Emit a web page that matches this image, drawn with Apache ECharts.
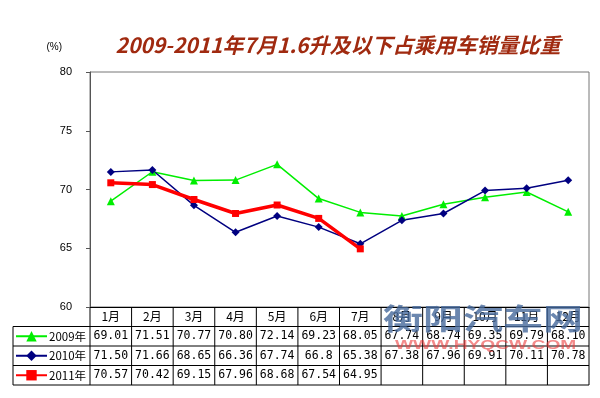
<!DOCTYPE html>
<html>
<head>
    <meta charset="utf-8">
    <title>ECharts</title>
    <script src="https://cdn.jsdelivr.net/npm/echarts@6/dist/echarts.min.js"></script>
</head>
<body style="margin:0">
<div id="main" style="width: 600px;height:398px;"></div>
<script type="text/javascript">
    var months = ['1月', '2月', '3月', '4月', '5月', '6月', '7月', '8月', '9月', '10月', '11月', '12月'];
    var names = ['2009年', '2010年', '2011年'];
    var y2009 = [69.01, 71.51, 70.77, 70.80, 72.14, 69.23, 68.05, 67.74, 68.74, 69.35, 69.79, 68.10];
    var y2010 = [71.50, 71.66, 68.65, 66.36, 67.74, 66.8, 65.38, 67.38, 67.96, 69.91, 70.11, 70.78];
    var y2011 = [70.57, 70.42, 69.15, 67.96, 68.68, 67.54, 64.95];
    // 表格里显示的文字（原表 66.8 只有一位小数）
    var t2009 = ['69.01', '71.51', '70.77', '70.80', '72.14', '69.23', '68.05', '67.74', '68.74', '69.35', '69.79', '68.10'];
    var t2010 = ['71.50', '71.66', '68.65', '66.36', '67.74', '66.8', '65.38', '67.38', '67.96', '69.91', '70.11', '70.78'];
    var t2011 = ['70.57', '70.42', '69.15', '67.96', '68.68', '67.54', '64.95'];

    // 布局
    var L = 90, R = 589, T = 72, B = 307, rowH = 19.5, tableLeft = 13;
    var colW = (R - L) / months.length;

    var myChart = echarts.init(document.getElementById('main'));

    // 表格线
    var lines = [];
    function seg(x1, y1, x2, y2) {
        lines.push({type: 'line', shape: {x1: x1, y1: y1, x2: x2, y2: y2},
            style: {stroke: '#000', lineWidth: 1}, silent: true});
    }
    for (var r = 1; r <= 4; r++) {
        seg(tableLeft, B + r * rowH, R, B + r * rowH);
    }
    seg(tableLeft, B + rowH, tableLeft, B + 4 * rowH);
    for (var c = 0; c <= months.length; c++) {
        seg(L + c * colW, B, L + c * colW, B + 4 * rowH);
    }

    var option = {
        animation: false,
        title: {
            text: '2009-2011年7月1.6升及以下占乘用车销量比重',
            left: 333, top: 30, textAlign: 'center',
            textStyle: {color: '#a02a10', fontSize: 21, fontStyle: 'italic', fontWeight: 'bold',
                fontFamily: 'Noto Sans CJK SC'}
        },
        legend: {
            orient: 'vertical', left: 15, top: B + rowH + (rowH - 13) / 2, padding: 0,
            itemWidth: 31, itemHeight: 13, itemGap: rowH - 13,
            textStyle: {fontSize: 11.5, lineHeight: 13, color: '#000', fontFamily: 'Noto Sans CJK SC',
                padding: [0, 0, 0, -3]},
            data: names
        },
        grid: {left: L, right: 600 - R, top: T, bottom: 398 - B, show: true, borderColor: '#777', borderWidth: 1},
        xAxis: {
            type: 'category', data: months, boundaryGap: true,
            axisLine: {lineStyle: {color: '#000'}},
            axisTick: {show: false},
            axisLabel: {
                margin: 0, interval: 0,
                formatter: function (v, i) {
                    return '{m|' + v + '}\n{n|' + t2009[i] + '}\n{n|' + t2010[i] + '}\n{n|' + (t2011[i] || ' ') + '}';
                },
                rich: {
                    m: {fontSize: 12, lineHeight: rowH, color: '#000', fontFamily: 'Noto Sans CJK SC'},
                    n: {fontSize: 11.5, lineHeight: rowH, color: '#000', fontFamily: 'DejaVu Sans Mono'}
                }
            }
        },
        yAxis: {
            type: 'value', min: 60, max: 80, interval: 5,
            name: '(%)', nameGap: 20,
            nameTextStyle: {color: '#000', fontSize: 10, align: 'right', padding: [0, 28, 0, 0]},
            axisLine: {show: true, lineStyle: {color: '#555'}},
            axisTick: {show: true, inside: false, length: 4, lineStyle: {color: '#555'}},
            axisLabel: {color: '#000', fontSize: 11, margin: 18, fontFamily: 'Liberation Sans'},
            splitLine: {show: false}
        },
        series: [
            {
                name: names[0], type: 'line', data: y2009,
                symbol: 'triangle', symbolSize: 8,
                itemStyle: {color: '#00ee00'}, lineStyle: {color: '#00ee00', width: 1.5}
            },
            {
                name: names[1], type: 'line', data: y2010,
                symbol: 'diamond', symbolSize: 8,
                itemStyle: {color: '#000080'}, lineStyle: {color: '#000080', width: 1.5}
            },
            {
                name: names[2], type: 'line', data: y2011,
                symbol: 'rect', symbolSize: 7,
                itemStyle: {color: '#ff0000'}, lineStyle: {color: '#ff0000', width: 3.5}
            }
        ],
        graphic: lines.concat([
            {type: 'text', x: 383, y: 304, scaleX: 1.38, silent: true, z: 100,
                style: {text: '衡阳汽车网', fontSize: 29, fontWeight: 'bold', fill: 'rgba(70,105,155,0.8)',
                    fontFamily: 'Noto Sans CJK SC', textVerticalAlign: 'top'}},
            {type: 'text', x: 395, y: 340, scaleX: 1.6, silent: true, z: 100,
                style: {text: 'WWW.HYQCW.COM', fontSize: 12, fontWeight: 'bold', fill: 'rgba(235,60,60,0.6)',
                    fontFamily: 'Liberation Sans', textVerticalAlign: 'top'}}
        ])
    };
    myChart.setOption(option);
</script>
</body>
</html>
